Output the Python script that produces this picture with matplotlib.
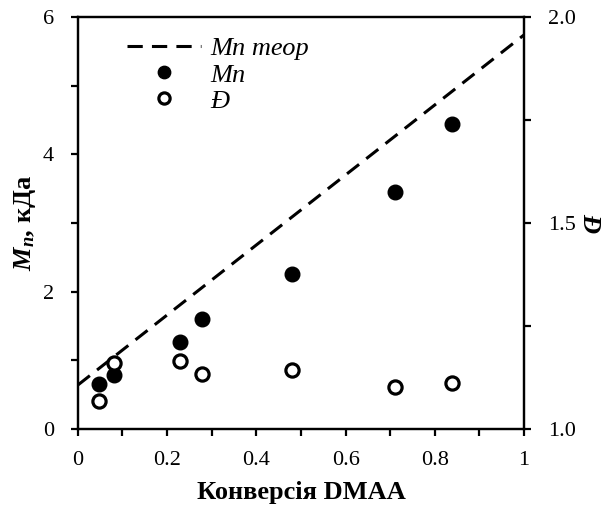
import numpy as np
import matplotlib
matplotlib.use('Agg')
import matplotlib.pyplot as plt
import matplotlib.ticker as ticker

plt.rcParams['font.family'] = ['Liberation Serif', 'DejaVu Serif']
plt.rcParams['mathtext.fontset'] = 'custom'
plt.rcParams['mathtext.rm'] = 'Liberation Serif'
plt.rcParams['mathtext.it'] = 'Liberation Serif:italic'
plt.rcParams['mathtext.bf'] = 'Liberation Serif:bold'
plt.rcParams['mathtext.bfit'] = 'Liberation Serif:italic:bold'

# data
conv = [0.048, 0.081, 0.229, 0.278, 0.48, 0.711, 0.839]
mn = [0.66, 0.78, 1.27, 1.60, 2.26, 3.45, 4.44]
disp = [1.069, 1.161, 1.165, 1.133, 1.143, 1.103, 1.111]
theor_x = [0.0, 1.0]
theor_y = [0.64, 5.74]

fig = plt.figure(figsize=(6.08, 5.13), dpi=100)
ax = fig.add_axes([0.128, 0.1637, 0.734, 0.8032])
ax2 = ax.twinx()

l1, = ax.plot(theor_x, theor_y, '--', color='black', linewidth=2.2, dashes=(5, 3), label='Mn теор')
p1, = ax.plot(conv, mn, 'o', color='black', markersize=10.5, linestyle='none', label='Mn')
p2, = ax2.plot(conv, disp, 'o', markerfacecolor='white', markeredgecolor='black',
               markeredgewidth=2.3, markersize=9.5, linestyle='none', label='Đ')

ax.set_xlim(0, 1)
ax.set_ylim(0, 6)
ax2.set_ylim(1.0, 2.0)

ax.xaxis.set_major_locator(ticker.MultipleLocator(0.2))
ax.xaxis.set_minor_locator(ticker.MultipleLocator(0.1))
ax.yaxis.set_major_locator(ticker.MultipleLocator(2))
ax.yaxis.set_minor_locator(ticker.MultipleLocator(1))
ax2.yaxis.set_major_locator(ticker.MultipleLocator(0.5))
ax2.yaxis.set_minor_locator(ticker.MultipleLocator(0.25))

ax.xaxis.set_major_formatter(ticker.FuncFormatter(lambda v, p: '{:g}'.format(v)))
ax.yaxis.set_major_formatter(ticker.FuncFormatter(lambda v, p: '{:g}'.format(v)))
ax2.yaxis.set_major_formatter(ticker.FormatStrFormatter('%.1f'))

for a in (ax, ax2):
    for s in a.spines.values():
        s.set_linewidth(1.6)
    a.tick_params(which='both', direction='out', length=5, width=1.6, labelsize=16, color='black')
ax.tick_params(axis='x', pad=11)
ax.tick_params(axis='y', pad=12)
ax2.tick_params(axis='y', pad=12)

ax.set_xlabel('Конверсія DMAA', fontsize=19, fontweight='bold', labelpad=8)
ax.set_ylabel(r'$\mathbfit{M}_{\mathbfit{n}}$, кДа', fontsize=19, fontweight='bold', labelpad=4)
ax2.set_ylabel(r'$\mathbfit{Đ}$', fontsize=19, rotation=270, va='bottom', labelpad=2)

leg = ax.legend([l1, p1, p2], ['Mn теор', 'Mn', 'Đ'], loc='upper left', bbox_to_anchor=(0.075, 0.99),
                frameon=False, handlelength=2.8, handletextpad=0.36, labelspacing=0.1,
                markerscale=0.85, borderaxespad=0.2,
                prop={'size': 19, 'style': 'italic'})

fig.savefig('out.png', dpi=100)
